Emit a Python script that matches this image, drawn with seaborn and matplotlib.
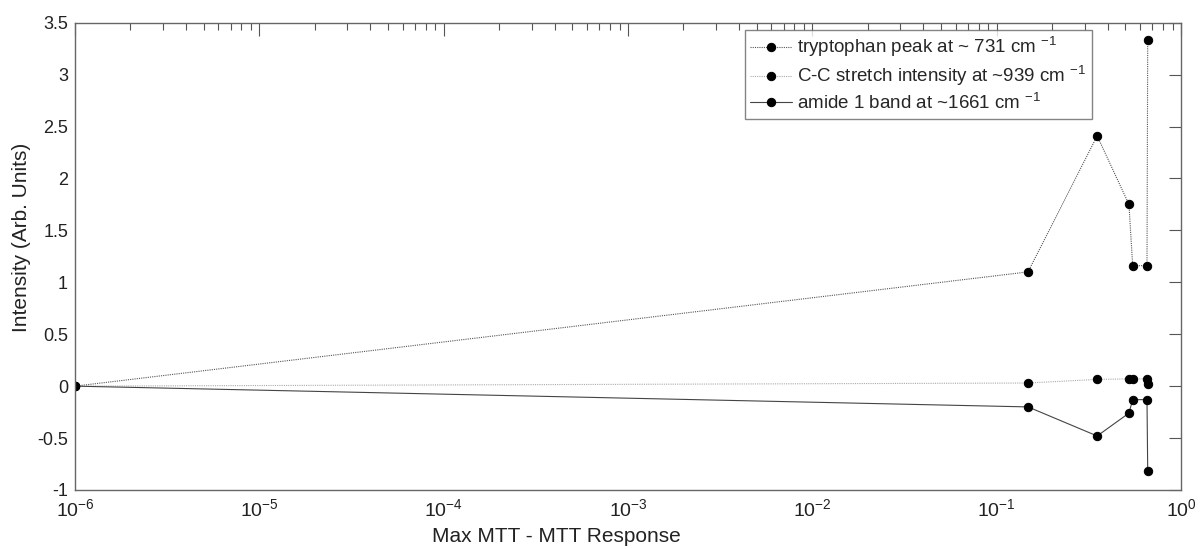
import matplotlib
matplotlib.use("Agg")
import matplotlib.pyplot as plt
import seaborn as sns
import pandas as pd
import numpy as np
from matplotlib.ticker import LogLocator, NullFormatter, FixedLocator

# Data
x_vals = [1e-6, 0.148, 0.351, 0.522, 0.547, 0.654, 0.66]
tryptophan = [0.0, 1.10, 2.41, 1.75, 1.16, 1.16, 3.33]
cc_stretch = [0.0, 0.03, 0.065, 0.07, 0.07, 0.07, 0.025]
amide1 = [0.0, -0.20, -0.48, -0.26, -0.13, -0.13, -0.82]
labels = ["tryptophan peak at ~ 731 cm $^{-1}$",
          "C-C stretch intensity at ~939 cm $^{-1}$",
          "amide 1 band at ~1661 cm $^{-1}$"]
yticks = [-1, -0.5, 0, 0.5, 1, 1.5, 2, 2.5, 3, 3.5]
ytick_labels = ["-1", "-0.5", "0", "0.5", "1", "1.5", "2", "2.5", "3", "3.5"]
xticks = [1e-6, 1e-5, 1e-4, 1e-3, 1e-2, 1e-1, 1]
xtick_labels = ["$10^{-6}$", "$10^{-5}$", "$10^{-4}$", "$10^{-3}$",
                "$10^{-2}$", "$10^{-1}$", "$10^{0}$"]

sns.set_theme(style="white")
plt.rcParams['font.family'] = ['Liberation Sans', 'DejaVu Sans']
plt.rcParams['mathtext.fontset'] = 'custom'
plt.rcParams['mathtext.rm'] = 'Liberation Sans'
plt.rcParams['mathtext.it'] = 'Liberation Sans'
plt.rcParams['mathtext.default'] = 'regular'

fig = plt.figure(figsize=(12.03, 5.49), dpi=100)
ax = fig.add_axes([0.0623, 0.1075, 0.9194, 0.8512])

styles = [
    dict(color="#555555", linestyle=(0, (1, 1)), linewidth=0.8),
    dict(color="#aaaaaa", linestyle=(0, (1, 1)), linewidth=0.8),
    dict(color="#444444", linestyle="-", linewidth=0.8),
]
for series, lab, st in zip([tryptophan, cc_stretch, amide1], labels, styles):
    df = pd.DataFrame({"x": x_vals, "y": series})
    sns.lineplot(data=df, x="x", y="y", ax=ax, sort=False, estimator=None,
                 marker="o", markersize=6, markerfacecolor="black",
                 markeredgecolor="black", label=lab, **st)

ax.set_xscale("log")
ax.set_xlim(1e-6, 1)
ax.set_ylim(-1, 3.5)
ax.set_yticks(yticks)
ax.set_yticklabels(ytick_labels)
ax.xaxis.set_major_locator(FixedLocator(xticks))
ax.set_xticklabels(xtick_labels)
ax.xaxis.set_minor_locator(LogLocator(base=10, subs=np.arange(2, 10), numticks=20))
ax.xaxis.set_minor_formatter(NullFormatter())

ax.tick_params(axis="both", which="both", direction="in", top=True, right=True,
               colors="#555555", labelcolor="#222222", labelsize=13)
ax.tick_params(axis="y", pad=5)
ax.tick_params(axis="x", pad=6, labelsize=14)
ax.tick_params(which="major", length=9, width=0.8)
ax.tick_params(which="minor", length=5, width=0.8)
for sp in ax.spines.values():
    sp.set_color("#666666")
    sp.set_linewidth(1.0)

ax.set_xlabel("Max MTT - MTT Response", fontsize=15, color="#222222", va="center")
ax.set_ylabel("Intensity (Arb. Units)", fontsize=15, color="#222222", va="center")
ax.xaxis.set_label_coords(0.435, -0.10)
ax.yaxis.set_label_coords(-0.048, 0.54)

leg = ax.legend(loc="upper right", bbox_to_anchor=(0.9195, 0.985), fancybox=False,
                edgecolor="#666666", fontsize=13.5, handlelength=2.2,
                borderpad=0.3, labelspacing=0.25, handletextpad=0.3,
                borderaxespad=0.0)
leg.get_frame().set_linewidth(1.0)
for line in leg.get_lines():
    line.set_markersize(6)

fig.savefig("out.png", dpi=100)
